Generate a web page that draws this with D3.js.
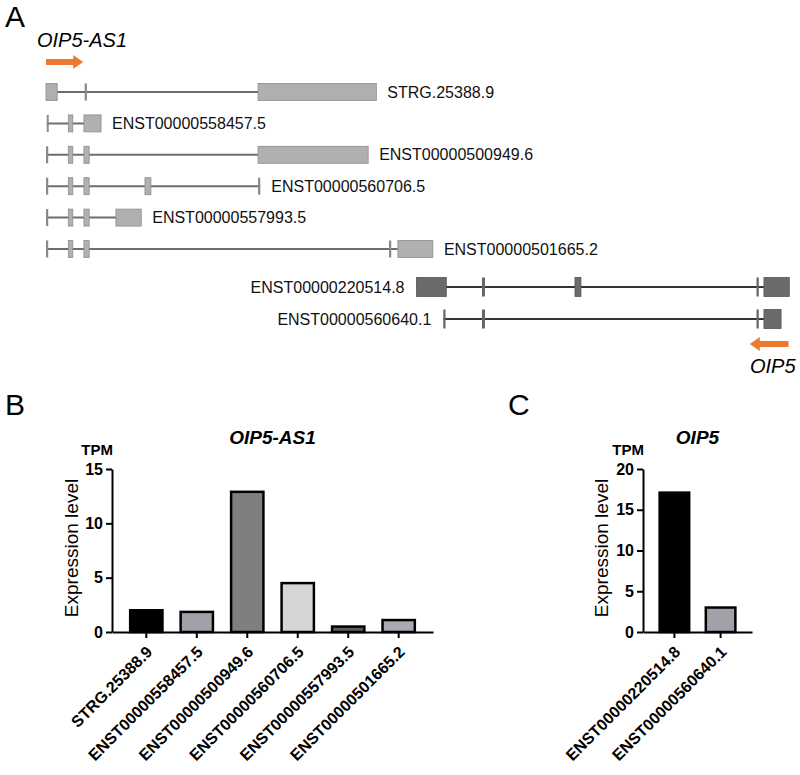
<!DOCTYPE html>
<html>
<head>
<meta charset="utf-8">
<script src="https://cdn.jsdelivr.net/npm/d3@7"></script>
<style>
  body { margin: 0; background: #fff; }
  svg { font-family: "Liberation Sans", Arial, sans-serif; }
  .axis path, .axis line { stroke: #000; stroke-width: 2; }
  .axis text { font-size: 16px; font-weight: bold; fill: #000; font-family: "Liberation Sans", Arial, sans-serif; }
</style>
</head>
<body>
<svg id="chart" width="800" height="775"></svg>
<script>
// ---- Panel A: transcript models (relative genomic position, 0-1000) ----
const as1Transcripts = ['STRG.25388.9', 'ENST00000558457.5', 'ENST00000500949.6',
  'ENST00000560706.5', 'ENST00000557993.5', 'ENST00000501665.2'];
const as1Exons = [
  [[0, 15], [52, 55], [285, 444]],
  [[1, 3], [30, 36], [51, 74]],
  [[0, 3], [30, 36], [51, 58], [285, 433]],
  [[0, 3], [30, 36], [51, 58], [133, 141], [285, 288]],
  [[0, 3], [30, 36], [51, 58], [94, 128]],
  [[0, 3], [30, 36], [51, 58], [461, 464], [473, 520]]
];
const oip5Transcripts = ['ENST00000220514.8', 'ENST00000560640.1'];
const oip5Exons = [
  [[498, 538], [586, 590], [711, 719], [955, 958], [965, 999]],
  [[534, 537], [586, 590], [955, 958], [965, 988]]
];
const as1Arrow = [0, 50];     // sense direction
const oip5Arrow = [998, 946]; // antisense direction

// ---- Panel B / C: expression (TPM) ----
const as1Expr = [2.0, 1.85, 12.9, 4.5, 0.5, 1.1];
const as1Colors = ['#000000', '#a1a1a9', '#7f7f7f', '#d6d6d6', '#5f5f5f', '#a9a9b1'];
const as1Ticks = [0, 5, 10, 15];
const oip5Expr = [17.1, 3.0];
const oip5Colors = ['#000000', '#a1a1a9'];
const oip5Ticks = [0, 5, 10, 15, 20];

const orange = '#ee7a2f';
const svg = d3.select('#chart');

// panel letters
[['A', 5, 27], ['B', 5, 415], ['C', 508, 415]].forEach(([t, x, y]) => {
  svg.append('text').attr('x', x).attr('y', y)
    .style('font-size', '30px').text(t);
});

// ---------- Panel A ----------
const xGenome = d3.scaleLinear().domain([0, 1000]).range([46, 790]);
const yAs1 = d3.scalePoint().domain(as1Transcripts).range([92, 249]);
const yOip5 = d3.scalePoint().domain(oip5Transcripts).range([287, 319]);

function drawArrow(g, span, y) {
  const xa = xGenome(span[0]), xb = xGenome(span[1]);
  const dir = xb > xa ? 1 : -1;
  const head = 10 * dir;
  const p = d3.path();
  p.moveTo(xa, y - 3);
  p.lineTo(xb - head, y - 3);
  p.lineTo(xb - head, y - 7);
  p.lineTo(xb, y);
  p.lineTo(xb - head, y + 7);
  p.lineTo(xb - head, y + 3);
  p.lineTo(xa, y + 3);
  p.closePath();
  g.append('path').attr('d', p.toString()).attr('fill', orange);
}

function drawModels(names, exons, yScale, style) {
  names.forEach((name, i) => {
    const y = yScale(name);
    const ex = exons[i];
    const g = svg.append('g');
    const start = xGenome(ex[0][0]), end = xGenome(ex[ex.length - 1][1]);
    g.append('line')
      .attr('x1', start).attr('x2', end)
      .attr('y1', y).attr('y2', y)
      .attr('stroke', style.line).attr('stroke-width', 2);
    g.selectAll('rect').data(ex).join('rect')
      .attr('x', d => xGenome(d[0]))
      .attr('width', d => Math.max(xGenome(d[1]) - xGenome(d[0]), 2))
      .attr('y', y - style.h / 2)
      .attr('height', style.h)
      .attr('fill', d => (xGenome(d[1]) - xGenome(d[0]) < 4) ? style.tick : style.fill)
      .attr('stroke', d => (xGenome(d[1]) - xGenome(d[0]) < 4) ? 'none' : style.stroke)
      .attr('stroke-width', 0.8);
    const lbl = g.append('text')
      .attr('y', y)
      .attr('dy', '0.35em')
      .style('font-size', '16px')
      .attr('fill', '#111')
      .text(name);
    if (style.labelSide === 'right') {
      lbl.attr('x', end + 11);
    } else {
      lbl.attr('x', start - 12).attr('text-anchor', 'end');
    }
  });
}

drawModels(as1Transcripts, as1Exons, yAs1,
  { line: '#6e6e6e', fill: '#b0b0b0', stroke: '#8c8c8c', tick: '#8a8a8a', h: 17, labelSide: 'right' });
drawModels(oip5Transcripts, oip5Exons, yOip5,
  { line: '#33333d', fill: '#6b6b6b', stroke: '#555', tick: '#666', h: 19, labelSide: 'left' });

const arrows = svg.append('g');
drawArrow(arrows, as1Arrow, 62);
drawArrow(arrows, oip5Arrow, 344);
svg.append('text').attr('x', 37).attr('y', 47)
  .style('font-size', '20px').style('font-style', 'italic').text('OIP5-AS1');
svg.append('text').attr('x', 750).attr('y', 373)
  .style('font-size', '20px').style('font-style', 'italic').text('OIP5');

// ---------- Panels B and C ----------
function barPanel(cfg) {
  const x = d3.scaleBand().domain(cfg.names).range(cfg.xRange)
    .paddingInner(0.36).paddingOuter(0.36);
  const y = d3.scaleLinear().domain([0, d3.max(cfg.ticks)]).range([632, 469]);
  const g = svg.append('g');

  g.selectAll('rect.bar').data(cfg.values).join('rect')
    .attr('class', 'bar')
    .attr('x', (d, i) => x(cfg.names[i]))
    .attr('width', x.bandwidth())
    .attr('y', d => y(d))
    .attr('height', d => y(0) - y(d))
    .attr('fill', (d, i) => cfg.colors[i])
    .attr('stroke', '#000')
    .attr('stroke-width', 2.5);

  g.append('g').attr('class', 'axis')
    .attr('transform', `translate(${cfg.xRange[0]},0)`)
    .call(d3.axisLeft(y).tickValues(cfg.ticks).tickSize(6).tickSizeOuter(0).tickPadding(3));

  const xa = g.append('g').attr('class', 'axis')
    .attr('transform', 'translate(0,632)')
    .call(d3.axisBottom(x).tickSize(6).tickSizeOuter(0));
  xa.selectAll('text')
    .attr('x', 0).attr('y', 0).attr('dy', null)
    .attr('text-anchor', 'end')
    .attr('transform', 'translate(7,21) rotate(-45)');

  g.append('text')
    .attr('x', (cfg.xRange[0] + cfg.xRange[1]) / 2).attr('y', 444)
    .attr('text-anchor', 'middle')
    .style('font-size', '19px').style('font-weight', 'bold').style('font-style', 'italic')
    .text(cfg.title);
  g.append('text')
    .attr('x', cfg.xRange[0] + 1).attr('y', 455)
    .attr('text-anchor', 'end')
    .style('font-size', '15px').style('font-weight', 'bold')
    .text('TPM');
  g.append('text')
    .attr('transform', `translate(${cfg.labelX},548) rotate(-90)`)
    .attr('text-anchor', 'middle')
    .style('font-size', '19px')
    .text('Expression level');
}

barPanel({ names: as1Transcripts, values: as1Expr, colors: as1Colors, ticks: as1Ticks,
  xRange: [112, 433], title: 'OIP5-AS1', labelX: 78 });
barPanel({ names: oip5Transcripts, values: oip5Expr, colors: oip5Colors, ticks: oip5Ticks,
  xRange: [643, 752], title: 'OIP5', labelX: 608 });
</script>
</body>
</html>
